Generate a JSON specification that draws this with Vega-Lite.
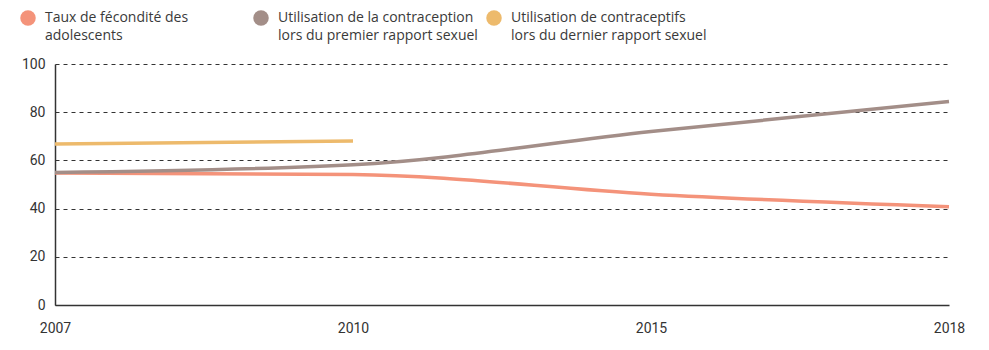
{
  "$schema": "https://vega.github.io/schema/vega-lite/v6.json",
  "width": 894,
  "height": 241,
  "autosize": "none",
  "padding": {"left": 55, "top": 64, "right": 40, "bottom": 45},
  "background": "white",
  "config": {
    "view": {"stroke": null},
    "font": "Roboto"
  },
  "data": {
    "values": [
      {"year": "2007", "serie": "Taux de fécondité des\nadolescents", "value": 54.8},
      {"year": "2010", "serie": "Taux de fécondité des\nadolescents", "value": 54.2},
      {"year": "2015", "serie": "Taux de fécondité des\nadolescents", "value": 46.0},
      {"year": "2018", "serie": "Taux de fécondité des\nadolescents", "value": 40.8},
      {"year": "2007", "serie": "Utilisation de la contraception\nlors du premier rapport sexuel", "value": 55.0},
      {"year": "2010", "serie": "Utilisation de la contraception\nlors du premier rapport sexuel", "value": 58.2},
      {"year": "2015", "serie": "Utilisation de la contraception\nlors du premier rapport sexuel", "value": 72.0},
      {"year": "2018", "serie": "Utilisation de la contraception\nlors du premier rapport sexuel", "value": 84.4},
      {"year": "2007", "serie": "Utilisation de contraceptifs\nlors du dernier rapport sexuel", "value": 66.8},
      {"year": "2010", "serie": "Utilisation de contraceptifs\nlors du dernier rapport sexuel", "value": 68.0}
    ]
  },
  "mark": {"type": "line", "strokeWidth": 3.5, "interpolate": "monotone"},
  "encoding": {
    "x": {
      "field": "year",
      "type": "ordinal",
      "scale": {"type": "point", "padding": 0},
      "axis": {
        "title": null,
        "labelAngle": 0,
        "ticks": false,
        "grid": false,
        "domainColor": "#333333",
        "domainWidth": 1.5,
        "labelPadding": 16,
        "labelFontSize": 14,
        "labelColor": "#333333",
        "labelFont": "Roboto"
      }
    },
    "y": {
      "field": "value",
      "type": "quantitative",
      "scale": {"domain": [0, 100]},
      "axis": {
        "title": null,
        "values": [0, 20, 40, 60, 80, 100],
        "ticks": false,
        "domainColor": "#333333",
        "domainWidth": 1.5,
        "gridColor": "#333333",
        "gridDash": [4, 4],
        "gridWidth": 1,
        "labelPadding": 10,
        "labelFontSize": 14,
        "labelColor": "#333333",
        "labelFont": "Roboto"
      }
    },
    "color": {
      "field": "serie",
      "type": "nominal",
      "sort": null,
      "scale": {
        "domain": [
          "Taux de fécondité des\nadolescents",
          "Utilisation de la contraception\nlors du premier rapport sexuel",
          "Utilisation de contraceptifs\nlors du dernier rapport sexuel"
        ],
        "range": ["#F4937A", "#A38E88", "#EDBA6C"]
      },
      "legend": {
        "title": null,
        "orient": "none",
        "legendX": -35,
        "legendY": -54,
        "direction": "horizontal",
        "columns": 3,
        "gridAlign": "all",
        "columnPadding": 8,
        "symbolType": "circle",
        "symbolSize": 240,
        "symbolStrokeWidth": 0,
        "symbolOpacity": 1,
        "labelFont": "Open Sans",
        "labelFontSize": 14,
        "labelColor": "#3a3a3a",
        "labelOffset": 9,
        "labelLimit": 300,
        "labelExpr": "split(datum.label, '\\n')",
        "encode": {
          "symbols": {"update": {"fill": {"field": "value", "scale": "color"}, "fillOpacity": {"value": 1}}},
          "labels": {"update": {"lineHeight": {"value": 18}}}
        }
      }
    }
  }
}
